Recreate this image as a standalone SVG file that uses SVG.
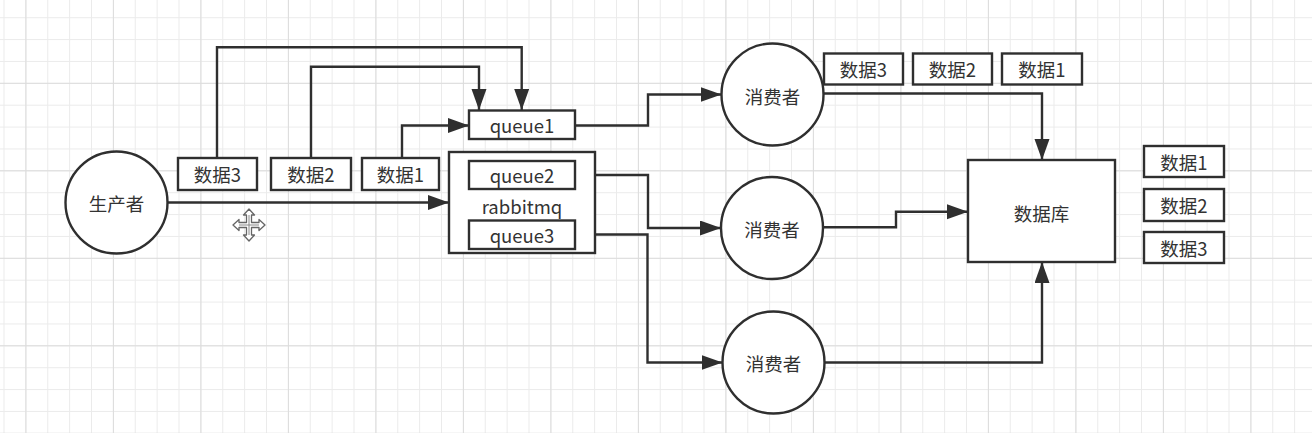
<svg xmlns="http://www.w3.org/2000/svg" width="1312" height="433" viewBox="0 0 1312 433">
  <style>
    .shape { fill: #ffffff; stroke: #2f2f2f; stroke-width: 2.4; }
    .lbl { font-family: "Noto Sans CJK SC", "Liberation Sans", sans-serif; font-size: 18.5px; fill: #333333; text-anchor: middle; dominant-baseline: central; }
    .conn { fill: none; stroke: #2f2f2f; stroke-width: 2.4; marker-end: url(#arrow); }
  </style>
  <defs>
    <pattern id="minor" patternUnits="userSpaceOnUse" x="3.5" y="17.2" width="21.875" height="21.875">
      <path d="M0 0.5 H21.875 M0.5 0 V21.875" fill="none" stroke="#ebebeb" stroke-width="1"/>
    </pattern>
    <pattern id="major" patternUnits="userSpaceOnUse" x="25.4" y="-4.7" width="87.5" height="87.5">
      <path d="M0 0.5 H87.5 M0.5 0 V87.5" fill="none" stroke="#dcdcdc" stroke-width="1"/>
    </pattern>
    <marker id="arrow" markerUnits="userSpaceOnUse" markerWidth="24" markerHeight="18" refX="21" refY="7.5" orient="auto">
      <path d="M0,0 L21,7.5 L0,15 Z" fill="#2f2f2f"/>
    </marker>
  </defs>

  <rect x="0" y="0" width="1312" height="433" fill="#ffffff"/>
  <rect x="0" y="0" width="1312" height="433" fill="url(#minor)"/>
  <rect x="0" y="0" width="1312" height="433" fill="url(#major)"/>

  <g id="connectors">
    <path class="conn" d="M168 202.5 H449"/>
    <path class="conn" d="M217 158 V47.3 H521.7 V110"/>
    <path class="conn" d="M311 158 V66.7 H479 V110"/>
    <path class="conn" d="M402 158 V125.5 H469"/>
    <path class="conn" d="M575 125.5 H648 V94.5 H721.5"/>
    <path class="conn" d="M575 175 H648 V228 H721"/>
    <path class="conn" d="M575 234.5 H647.5 V362.5 H722.5"/>
    <path class="conn" d="M823.5 93.5 H1042 V160"/>
    <path class="conn" d="M823 227.3 H896 V211.7 H968"/>
    <path class="conn" d="M824.5 362.5 H1042 V262"/>
  </g>

  <g id="producer">
    <circle class="shape" cx="116.5" cy="202.5" r="51"/>
    <text class="lbl" x="116.5" y="202.5">生产者</text>
  </g>

  <g id="data3-left">
    <rect class="shape" x="178" y="158" width="79" height="32"/>
    <text class="lbl" x="217.5" y="174">数据3</text>
  </g>
  <g id="data2-left">
    <rect class="shape" x="271" y="158" width="80" height="32"/>
    <text class="lbl" x="311" y="174">数据2</text>
  </g>
  <g id="data1-left">
    <rect class="shape" x="362" y="158" width="77" height="32"/>
    <text class="lbl" x="400.5" y="174">数据1</text>
  </g>

  <g id="queue1">
    <rect class="shape" x="469" y="110.5" width="106" height="28.5"/>
    <text class="lbl" x="522" y="124.5">queue1</text>
  </g>

  <g id="rabbitmq">
    <rect class="shape" x="449" y="152" width="146" height="101"/>
    <text class="lbl" x="522" y="206">rabbitmq</text>
  </g>
  <g id="queue2">
    <rect class="shape" x="469" y="161" width="106" height="28"/>
    <text class="lbl" x="522" y="175">queue2</text>
  </g>
  <g id="queue3">
    <rect class="shape" x="469" y="220.5" width="106" height="28.5"/>
    <text class="lbl" x="522" y="234.5">queue3</text>
  </g>

  <g id="consumer1">
    <circle class="shape" cx="772.5" cy="94.5" r="51"/>
    <text class="lbl" x="772.5" y="96">消费者</text>
  </g>
  <g id="consumer2">
    <circle class="shape" cx="772" cy="228" r="51"/>
    <text class="lbl" x="772" y="229">消费者</text>
  </g>
  <g id="consumer3">
    <circle class="shape" cx="773.5" cy="362.5" r="51"/>
    <text class="lbl" x="773.5" y="363">消费者</text>
  </g>

  <g id="data3-top">
    <rect class="shape" x="824" y="53.5" width="79" height="31"/>
    <text class="lbl" x="863.5" y="69">数据3</text>
  </g>
  <g id="data2-top">
    <rect class="shape" x="913" y="53.5" width="79" height="31"/>
    <text class="lbl" x="952.5" y="69">数据2</text>
  </g>
  <g id="data1-top">
    <rect class="shape" x="1002" y="53.5" width="80" height="31"/>
    <text class="lbl" x="1042" y="69">数据1</text>
  </g>

  <g id="database">
    <rect class="shape" x="968" y="160" width="147" height="102"/>
    <text class="lbl" x="1041.5" y="213">数据库</text>
  </g>

  <g id="data1-right">
    <rect class="shape" x="1144" y="146" width="80" height="31"/>
    <text class="lbl" x="1184" y="161.5">数据1</text>
  </g>
  <g id="data2-right">
    <rect class="shape" x="1144" y="189" width="80" height="32"/>
    <text class="lbl" x="1184" y="205">数据2</text>
  </g>
  <g id="data3-right">
    <rect class="shape" x="1144" y="232" width="80" height="31"/>
    <text class="lbl" x="1184" y="247.5">数据3</text>
  </g>

  <g id="move-cursor" transform="translate(249 225)">
    <polygon points="0,-16 5.5,-10 2.5,-10 2.5,-2.5 10,-2.5 10,-5.5 16,0 10,5.5 10,2.5 2.5,2.5 2.5,10 5.5,10 0,16 -5.5,10 -2.5,10 -2.5,2.5 -10,2.5 -10,5.5 -16,0 -10,-5.5 -10,-2.5 -2.5,-2.5 -2.5,-10 -5.5,-10" fill="#ffffff" stroke="#666666" stroke-width="1.3" stroke-linejoin="round"/>
    <path d="M0 -10 V10 M-10 0 H10" fill="none" stroke="#888888" stroke-width="1"/>
  </g>
</svg>
